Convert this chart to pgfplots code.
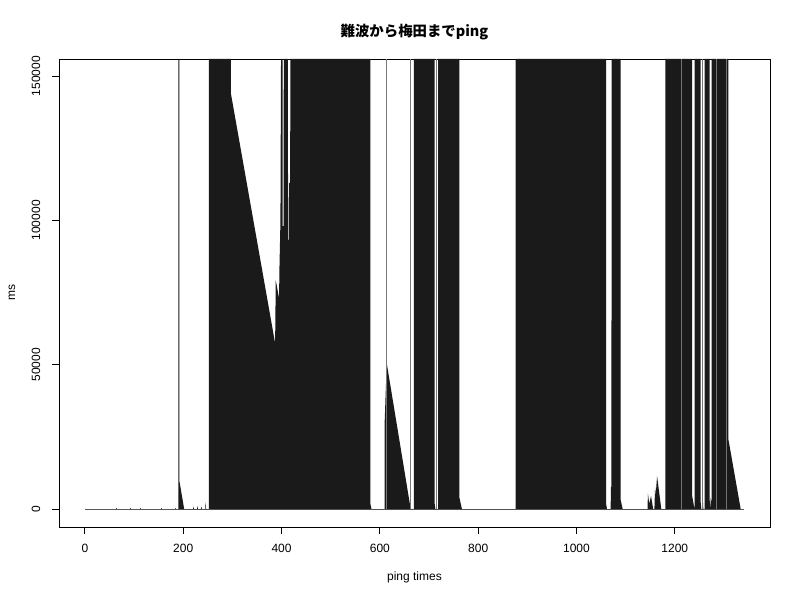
\documentclass[border=0pt]{standalone}
\usepackage{fontspec}
\setmainfont{Liberation Sans}
\newfontfamily\cjk{Noto Sans CJK JP}
\usepackage{pgfplots}
\pgfplotsset{compat=1.18}
\definecolor{fillc}{RGB}{26,26,26}
\definecolor{thingray}{RGB}{120,120,120}
\begin{document}
\begin{tikzpicture}
\useasboundingbox (-59bp,-73bp) rectangle (741bp,527bp);
\begin{axis}[
  at={(0,0)}, anchor=south west,
  scale only axis, width=711bp, height=468bp,
  xmin=-52.6, xmax=1393.6, ymin=-6235, ymax=155890,
  axis line style={line width=0.8bp},
  xtick={0,200,...,1200}, ytick={0,50000,100000,150000},
  xtick pos=left, ytick pos=left, tick align=outside,
  major tick length=7bp, tick style={line width=0.8bp,black},
  scaled ticks=false,
  /pgf/number format/fixed,
  /pgf/number format/precision=0,
  /pgf/number format/1000 sep={},
  /pgf/number format/assume math mode=true,
  tick label style={font=\fontsize{12bp}{14bp}\selectfont},
  xticklabel style={anchor=center, yshift=-14bp},
  yticklabel style={anchor=center, xshift=-16bp, rotate=90},
  xlabel={ping times}, ylabel={ms},
  every axis x label/.style={at={(axis description cs:0.5,0)}, anchor=center, yshift=-50bp, font=\fontsize{12bp}{14bp}\selectfont},
  every axis y label/.style={at={(axis description cs:0,0.5)}, anchor=center, xshift=-47bp, rotate=90, font=\fontsize{12bp}{14bp}\selectfont},
  title={\cjk\bfseries 難波から梅田までping},
  title style={font=\fontsize{14.4bp}{17bp}\selectfont, at={(axis description cs:0.5,1)}, anchor=center, yshift=21bp},
]
% baseline (zero values)
\addplot[black!65, line width=0.8bp] coordinates {(1,0) (1341,0)};
% tiny pings before the first outage
\addplot[ycomb, black!65, line width=0.6bp] coordinates {(64.5,400) (91.6,350) (112,350) (156,400) (183,350)};
% ping responses (timeouts reach the top)
\addplot[fill=fillc, draw=none] coordinates {
 (190,0) (190,155890) (192,155890) (192,10000) (202,0)
 (220,0) (221,800) (222,0) (228,0) (229,1000) (230,0) (236,0) (237,900) (238,0)
 (245,0) (245.5,2400) (246.5,0)
 (252.5,0) (252.5,155890) (297,155890) (297,144000) (387,57400) (388.3,79300) (395,73000)
 (395.8,83400) (397.8,99500) (399,155890) (402,155890) (402.3,98000) (404.3,98000) (404.6,155890)
 (413,155890) (413.3,93200) (415,93200) (415.3,113000) (417.6,113000) (418,155890)
 (580.5,155890) (580.5,2000) (583,0)
 (609.6,0) (609.6,29100) (614,50500) (662,800) (664,0)
 (669.4,0) (669.4,155890) (711.4,155890) (711.4,2000) (713,0)
 (718.3,0) (718.3,155890) (762,155890) (762,3800) (767,0)
 (876,0) (876,155890) (1060.5,155890) (1060.5,1500) (1062,0)
 (1069.5,0) (1070,7700) (1071,7700) (1071.5,155890) (1090,155890) (1090,3000) (1094,0)
 (1144.5,0) (1145.3,5400) (1148,1800) (1151.6,4500) (1156,0)
 (1158.5,0) (1159.8,7500) (1161,4500) (1163.9,11430) (1172.5,0)
 (1180.6,0) (1180.6,155890) (1235,155890) (1235,4800) (1240,0)
 (1240.5,0) (1240.5,155890) (1252.5,155890) (1252.5,2500) (1254,0)
 (1256,0) (1256.6,4500) (1258,0)
 (1260.7,0) (1260.7,155890) (1270.9,155890) (1270.9,3000) (1272.5,0) (1273,3700) (1275,2000)
 (1275,155890) (1309,155890) (1309,24100) (1334,0)
} \closedcycle;
% single isolated full-height responses / thin gaps
\addplot[ycomb, thingray, line width=0.8bp] coordinates {(614,155890) (663,155890) (715.5,155890) (1256.6,155890)};
\addplot[ycomb, black!55, line width=0.6bp] coordinates {(1213,155890) (1283.8,155890) (1304,155890)};
\end{axis}
\end{tikzpicture}
\end{document}
